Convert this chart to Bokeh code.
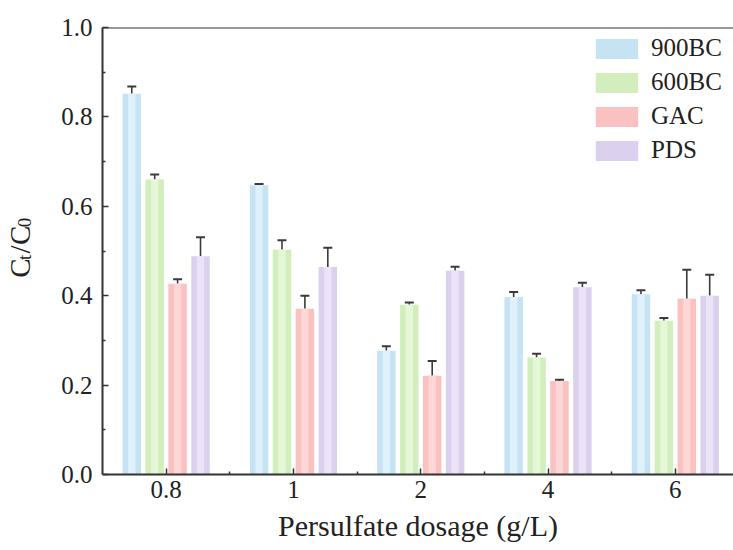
import math
import numpy as np
from bokeh.plotting import figure
from bokeh.layouts import row
from bokeh.models import (Range1d, FixedTicker, Whisker, TeeHead, Span, Label,
                          NumeralTickFormatter, ColumnDataSource)
from bokeh.embed import file_html
from bokeh.resources import INLINE

# ---------------- data ----------------
categories = ["0.8", "1", "2", "4", "6"]
series = ["900BC", "600BC", "GAC", "PDS"]

bc900 = [0.852, 0.647, 0.277, 0.397, 0.403]
bc900_err = [0.016, 0.003, 0.010, 0.011, 0.009]
bc600 = [0.660, 0.503, 0.380, 0.262, 0.344]
bc600_err = [0.011, 0.021, 0.005, 0.008, 0.006]
gac = [0.427, 0.371, 0.221, 0.209, 0.393]
gac_err = [0.010, 0.029, 0.033, 0.003, 0.065]
pds = [0.488, 0.464, 0.456, 0.419, 0.400]
pds_err = [0.043, 0.043, 0.009, 0.010, 0.047]

y_ticks = [0.0, 0.2, 0.4, 0.6, 0.8, 1.0]
y_minor = [0.1, 0.3, 0.5, 0.7, 0.9]

values = [bc900, bc600, gac, pds]
errors = [bc900_err, bc600_err, gac_err, pds_err]

# ---------------- style ----------------
FONT = "Liberation Serif"
colors = ["#c6e3f4", "#d2eebc", "#fbc0c0", "#dbd0ee"]
highlights = ["#dff1fb", "#e6f7d8", "#fdd6d6", "#ebe4f7"]
offsets = [-0.27, -0.09, 0.09, 0.27]
bar_w = 0.145
AX = "#333333"
TXT = "#222222"

TOTAL_W, H = 733, 550
TITLE_W = 58

# ---- narrow figure holding the rotated y title ----
ft = figure(width=TITLE_W, height=H, output_backend="svg", toolbar_location=None,
            x_range=Range1d(0, TITLE_W), y_range=Range1d(0, H),
            x_axis_type=None, y_axis_type=None, min_border=0,
            min_border_left=0, min_border_right=0, min_border_top=0,
            min_border_bottom=0)
ft.outline_line_color = None
ft.xgrid.visible = False
ft.ygrid.visible = False

base_x = 19
y0 = 242
pieces = [("C", 29, 0, 19.3), ("t", 19, 5, 5.5), ("/", 29, 0, 8.1),
          ("C", 29, 0, 19.3), ("0", 19, 5, 9.5)]
cum = 0.0
for txt, fs, shift, adv in pieces:
    ft.add_layout(Label(x=base_x + shift, y=y0 + cum, text=txt,
                        angle=math.pi / 2, text_align="left",
                        text_baseline="alphabetic", text_font=FONT,
                        text_font_size=f"{fs}px", text_color=TXT))
    cum += adv + 2.5

# ---- main figure ----
p = figure(width=TOTAL_W - TITLE_W, height=H, output_backend="svg",
           toolbar_location=None,
           x_range=Range1d(-0.5, 4.457), y_range=Range1d(0, 1.0),
           min_border_left=101 - TITLE_W, min_border_right=0, min_border_top=27,
           min_border_bottom=76)
p.outline_line_color = None
p.xgrid.visible = False
p.ygrid.visible = False

idx = np.arange(len(categories))
for i, name in enumerate(series):
    xs = idx + offsets[i]
    top = np.array(values[i])
    err = np.array(errors[i])
    src = ColumnDataSource(dict(x=xs, top=top, upper=top + err))
    p.vbar(x="x", top="top", bottom=0, width=bar_w, source=src,
           fill_color=colors[i], line_color=None, legend_label=name)
    p.vbar(x="x", top="top", bottom=0, width=bar_w * 0.4, source=src,
           fill_color=highlights[i], line_color=None)
    w = Whisker(base="x", upper="upper", lower="top", source=src,
                dimension="height", line_color="#3a3a3a", line_width=1.6,
                lower_head=None,
                upper_head=TeeHead(size=9, line_color="#3a3a3a", line_width=2))
    p.add_layout(w)

# top frame line
p.add_layout(Span(location=1.0, dimension="width", line_color=AX, line_width=2))

# axes
p.xaxis.ticker = FixedTicker(ticks=list(range(len(categories))),
                             minor_ticks=[0.5, 1.5, 2.5, 3.5])
p.xaxis.major_label_overrides = {i: c for i, c in enumerate(categories)}
p.yaxis.ticker = FixedTicker(ticks=y_ticks, minor_ticks=y_minor)
p.yaxis.formatter = NumeralTickFormatter(format="0.0")

for ax in (p.xaxis[0], p.yaxis[0]):
    ax.axis_line_width = 2
    ax.axis_line_color = AX
    ax.major_tick_in = 6
    ax.major_tick_out = 0
    ax.minor_tick_in = 3
    ax.minor_tick_out = 0
    ax.major_tick_line_width = 1.5
    ax.minor_tick_line_width = 1.5
    ax.major_tick_line_color = AX
    ax.minor_tick_line_color = AX
    ax.major_label_text_font = FONT
    ax.major_label_text_font_size = "25px"
    ax.major_label_text_color = TXT
    ax.major_label_standoff = 10

p.xaxis.major_label_standoff = 6
p.xaxis.axis_label = "Persulfate dosage (g/L)"
p.xaxis.axis_label_text_font = FONT
p.xaxis.axis_label_text_font_size = "30px"
p.xaxis.axis_label_text_font_style = "normal"
p.xaxis.axis_label_text_color = TXT
p.xaxis.axis_label_standoff = 8

# legend
lg = p.legend[0]
lg.location = (488, 310)
lg.padding = 0
lg.margin = 0
lg.border_line_color = None
lg.background_fill_alpha = 0
lg.glyph_width = 53
lg.glyph_height = 25
lg.label_height = 25
lg.spacing = 6
lg.label_standoff = 8
lg.label_text_font = FONT
lg.label_text_font_size = "25px"
lg.label_text_color = TXT
lg.label_text_baseline = "middle"

layout = row(ft, p, spacing=0)
open("out.html", "w").write(file_html(layout, INLINE))
